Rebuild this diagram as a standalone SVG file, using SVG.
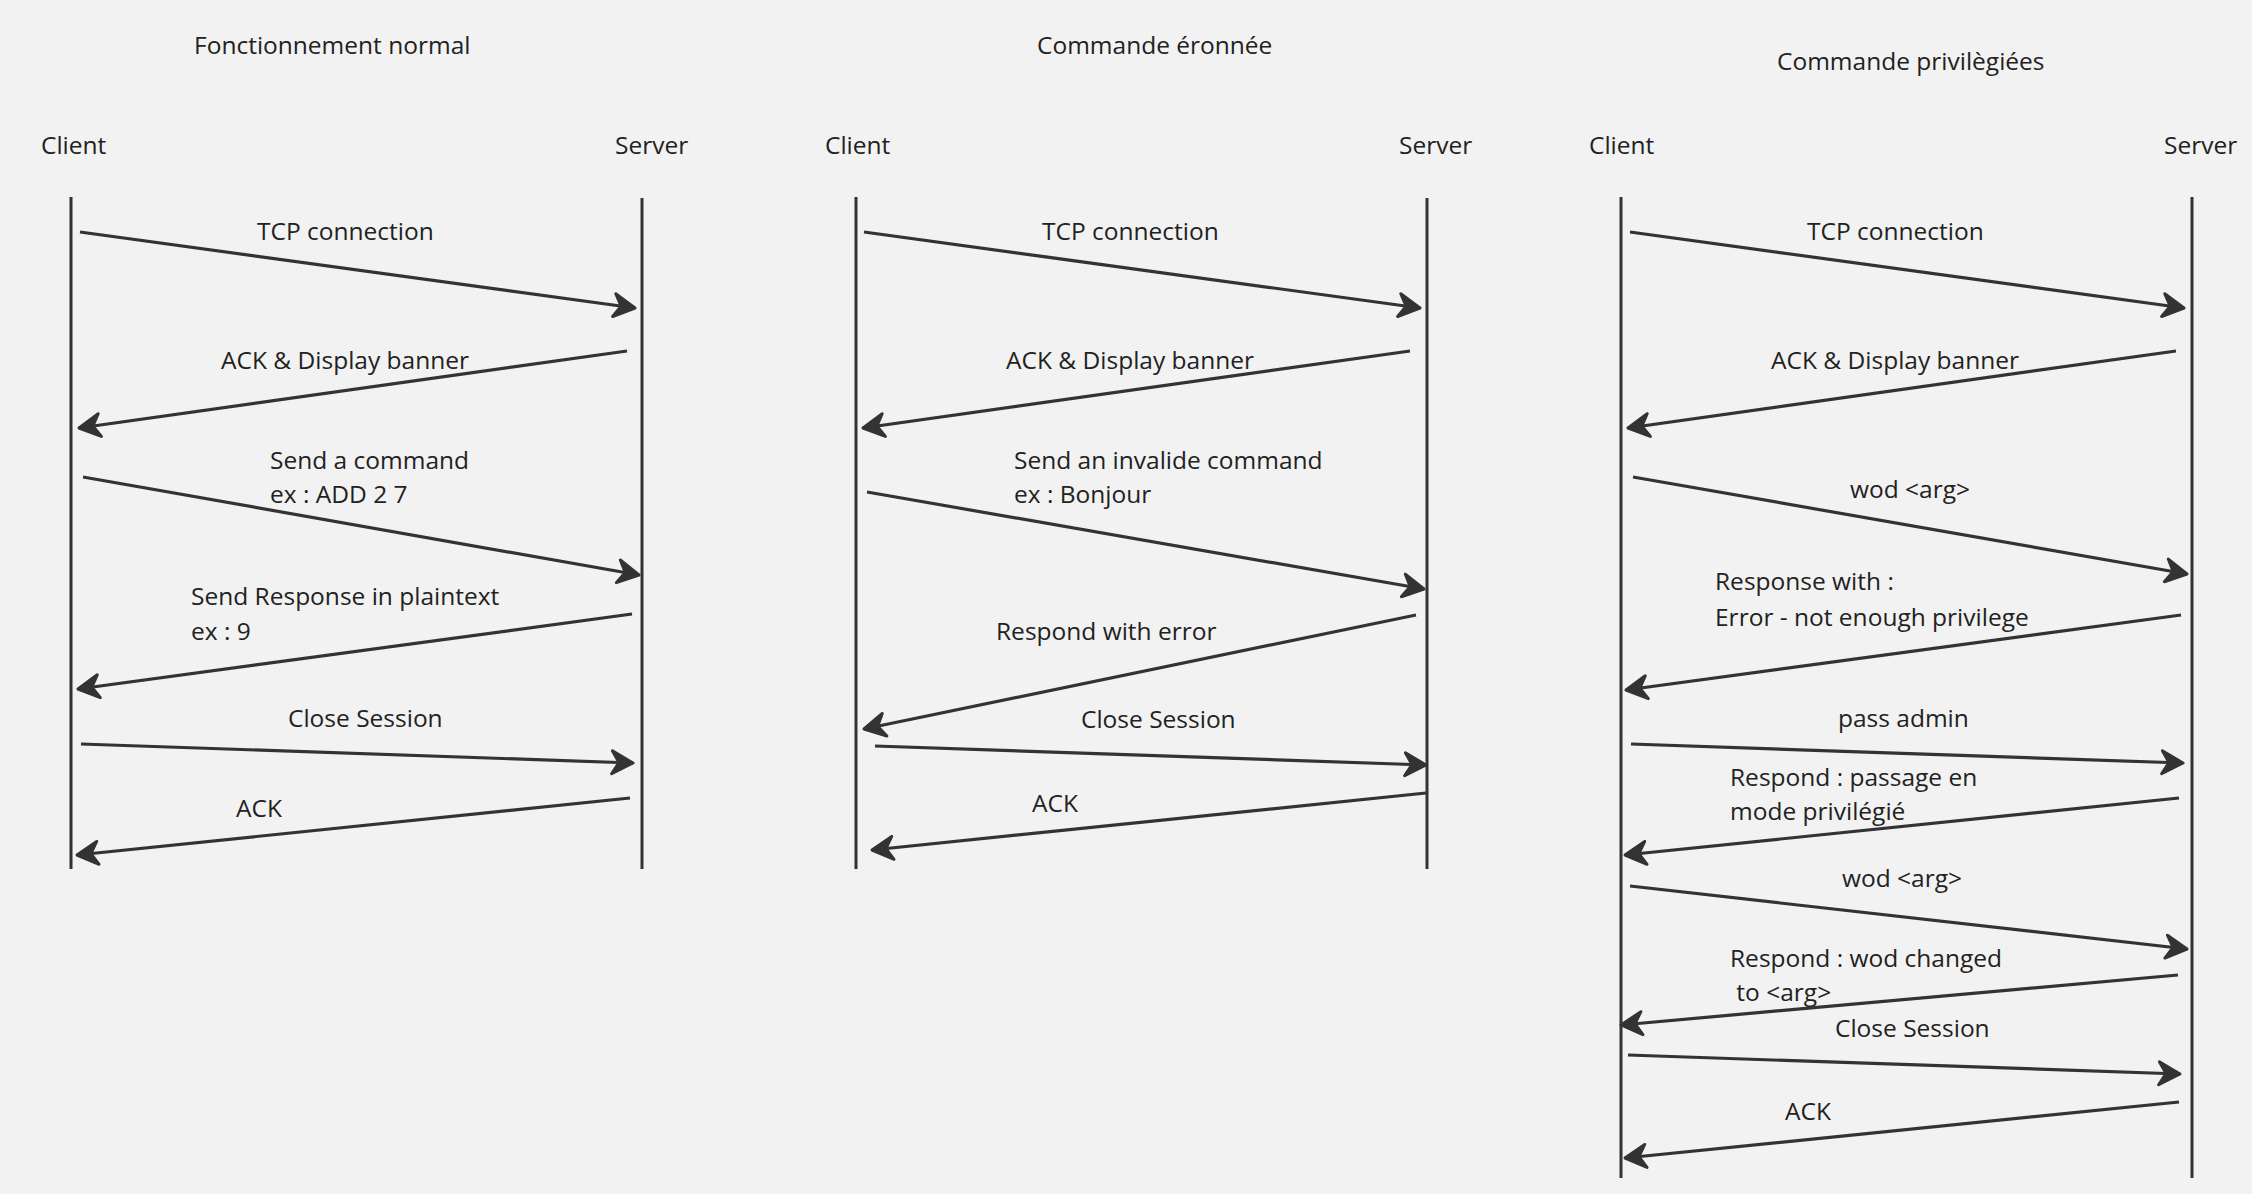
<svg xmlns="http://www.w3.org/2000/svg" width="2252" height="1194" viewBox="0 0 2252 1194">
<style>
text{font-family:"Open Sans","Noto Sans","Liberation Sans",sans-serif;font-size:24.5px;fill:#222}
.life{stroke:#333;stroke-width:3;fill:none}
.msg{stroke:#333;stroke-width:3.2;fill:none;marker-end:url(#ah)}
</style>
<defs>
<marker id="ah" markerUnits="userSpaceOnUse" orient="auto" viewBox="-26 -16 30 32" markerWidth="30" markerHeight="32" refX="0" refY="0">
<path d="M0,0 L-21,-11.5 L-14,0 L-21,11.5 Z" fill="#333" stroke="#333" stroke-width="3" stroke-linejoin="round"/>
</marker>
</defs>
<rect width="2252" height="1194" fill="#f2f2f2"/>

<g id="titles">
<text x="194" y="54">Fonctionnement normal</text>
<text x="1037" y="54">Commande éronnée</text>
<text x="1777" y="70">Commande privilègiées</text>
</g>

<g id="p1-client"><text x="41" y="154">Client</text><line class="life" x1="71" y1="197" x2="71" y2="869"/></g>
<g id="p1-server"><text x="615" y="154">Server</text><line class="life" x1="642" y1="198" x2="642" y2="869"/></g>
<g id="p2-client"><text x="825" y="154">Client</text><line class="life" x1="856" y1="197" x2="856" y2="869"/></g>
<g id="p2-server"><text x="1399" y="154">Server</text><line class="life" x1="1427" y1="198" x2="1427" y2="869"/></g>
<g id="p3-client"><text x="1589" y="154">Client</text><line class="life" x1="1621" y1="197" x2="1621" y2="1178"/></g>
<g id="p3-server"><text x="2164" y="154">Server</text><line class="life" x1="2192" y1="197" x2="2192" y2="1178"/></g>

<g id="connectors">
<!-- panel 1 -->
<line class="msg" x1="80" y1="232" x2="635" y2="308"/>
<line class="msg" x1="627" y1="351" x2="79" y2="428"/>
<line class="msg" x1="83" y1="477" x2="639" y2="575"/>
<line class="msg" x1="632" y1="614" x2="78" y2="689"/>
<line class="msg" x1="81" y1="744" x2="633" y2="763"/>
<line class="msg" x1="630" y1="798" x2="77" y2="855"/>
<!-- panel 2 -->
<line class="msg" x1="864" y1="232" x2="1420" y2="308"/>
<line class="msg" x1="1410" y1="351" x2="863" y2="428"/>
<line class="msg" x1="867" y1="492" x2="1424" y2="589"/>
<line class="msg" x1="1416" y1="615" x2="864" y2="729"/>
<line class="msg" x1="875" y1="746" x2="1426" y2="765"/>
<line class="msg" x1="1426" y1="793" x2="872" y2="850"/>
<!-- panel 3 -->
<line class="msg" x1="1630" y1="232" x2="2184" y2="308"/>
<line class="msg" x1="2176" y1="351" x2="1628" y2="428"/>
<line class="msg" x1="1633" y1="477" x2="2187" y2="574"/>
<line class="msg" x1="2181" y1="615" x2="1626" y2="690"/>
<line class="msg" x1="1631" y1="744" x2="2183" y2="763"/>
<line class="msg" x1="2179" y1="798" x2="1625" y2="855"/>
<line class="msg" x1="1630" y1="886" x2="2187" y2="949"/>
<line class="msg" x1="2178" y1="975" x2="1621" y2="1025"/>
<line class="msg" x1="1628" y1="1055" x2="2180" y2="1074"/>
<line class="msg" x1="2179" y1="1102" x2="1625" y2="1158"/>
</g>

<g id="labels">
<text x="257" y="240">TCP connection</text>
<text x="221" y="369">ACK &amp; Display banner</text>
<text x="270" y="469">Send a command</text>
<text x="270" y="503">ex : ADD 2 7</text>
<text x="191" y="605">Send Response in plaintext</text>
<text x="191" y="640">ex : 9</text>
<text x="288" y="727">Close Session</text>
<text x="236" y="817">ACK</text>

<text x="1042" y="240">TCP connection</text>
<text x="1006" y="369">ACK &amp; Display banner</text>
<text x="1014" y="469">Send an invalide command</text>
<text x="1014" y="503">ex : Bonjour</text>
<text x="996" y="640">Respond with error</text>
<text x="1081" y="728">Close Session</text>
<text x="1032" y="812">ACK</text>

<text x="1807" y="240">TCP connection</text>
<text x="1771" y="369">ACK &amp; Display banner</text>
<text x="1850" y="498">wod &lt;arg&gt;</text>
<text x="1715" y="590">Response with :</text>
<text x="1715" y="626">Error - not enough privilege</text>
<text x="1838" y="727">pass admin</text>
<text x="1730" y="786">Respond : passage en</text>
<text x="1730" y="820">mode privilégié</text>
<text x="1842" y="887">wod &lt;arg&gt;</text>
<text x="1730" y="967">Respond : wod changed</text>
<text x="1730" y="1001" xml:space="preserve"> to &lt;arg&gt;</text>
<text x="1835" y="1037">Close Session</text>
<text x="1785" y="1120">ACK</text>
</g>
</svg>
